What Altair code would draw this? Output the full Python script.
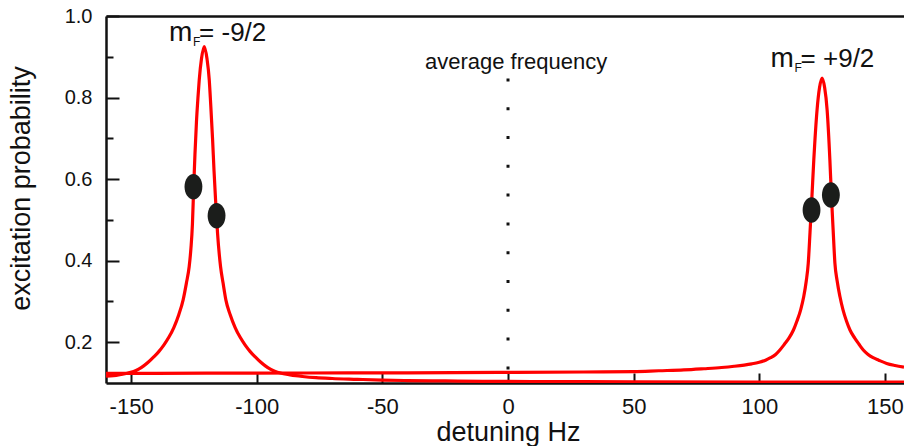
import altair as alt
import pandas as pd

# ---------------- data ----------------
left_x = [-160, -157, -154, -151.5, -149, -147, -145, -143, -141, -139, -137, -135, -133,
          -131, -129.3, -128, -126.9, -126.2, -125.6, -125.1, -124.6, -124.0, -123.4,
          -122.9, -122.0, -120.9, -119.8, -118.9, -118.3, -117.6, -117.0, -116.4, -115.6,
          -114.4, -113.4, -112.3, -110.6, -108.6, -106.6, -104.6, -102.6, -100.6, -98.6,
          -96.6, -94.6, -92.6, -90.2, -87.5, -84.5, -81.8, -76.4, -70, -60, -50, -40,
          -25, -10, 20, 50, 100, 157.6]
left_p = [0.117, 0.118, 0.121, 0.124, 0.128, 0.134, 0.142, 0.152, 0.164, 0.177, 0.193,
          0.212, 0.236, 0.268, 0.304, 0.345, 0.385, 0.430, 0.490, 0.580, 0.660, 0.740,
          0.800, 0.843, 0.895, 0.925, 0.895, 0.843, 0.780, 0.700, 0.620, 0.550, 0.467,
          0.385, 0.345, 0.304, 0.268, 0.236, 0.212, 0.193, 0.177, 0.164, 0.152, 0.142,
          0.134, 0.128, 0.124, 0.121, 0.118, 0.116, 0.113, 0.111, 0.109, 0.107, 0.106,
          0.105, 0.104, 0.1035, 0.103, 0.1025, 0.102]

right_x = [-160, -120, -80, -40, 0, 30, 50, 60, 70, 78, 85, 90, 94, 97, 100, 102.5,
           104.5, 106.5, 108.2, 110, 111.8, 113.6, 115, 116.5, 117.7, 118.7, 119.5,
           120.2, 120.9, 121.7, 123.0, 124.0, 125.0, 126.0, 127.0, 128.1, 128.7, 129.4,
           130.1, 131.0, 132.1, 133.3, 134.7, 136.1, 138.0, 139.7, 141.4, 143.3, 145.3,
           147.5, 150.7, 154.0, 157.6]
right_p = [0.1235, 0.124, 0.1245, 0.125, 0.126, 0.127, 0.128, 0.130, 0.132, 0.135,
           0.138, 0.141, 0.144, 0.147, 0.151, 0.156, 0.162, 0.170, 0.181, 0.195, 0.210,
           0.230, 0.252, 0.280, 0.312, 0.350, 0.394, 0.470, 0.550, 0.647, 0.770, 0.825,
           0.848, 0.825, 0.770, 0.647, 0.561, 0.475, 0.394, 0.350, 0.312, 0.280, 0.252,
           0.230, 0.210, 0.195, 0.181, 0.170, 0.162, 0.156, 0.148, 0.143, 0.139]

dot_x = [-125.2, -116.0, 120.8, 128.5]
dot_p = [0.581, 0.510, 0.524, 0.561]

x_ticks = [-150, -100, -50, 0, 50, 100, 150]
y_major = [0.2, 0.4, 0.6, 0.8, 1.0]
y_minor = [0.3, 0.5, 0.7, 0.9]

avg_freq = [0.0]
avg_line_top = [0.847]
avg_label = ["average frequency"]
avg_label_p = [0.869]

peak_text = ["= -9/2", "= +9/2"]
peak_label_x = [-134.9, 104.5]
peak_label_p = [0.939, 0.876]

# ---------------- tables ----------------
curves = pd.DataFrame({
    "detuning": left_x + right_x,
    "prob": left_p + right_p,
    "series": ["mF=-9/2"] * len(left_x) + ["mF=+9/2"] * len(right_x),
})
dots = pd.DataFrame({"detuning": dot_x, "prob": dot_p})
avg_df = pd.DataFrame({"detuning": avg_freq, "top": avg_line_top, "bottom": [0.1],
                       "label": avg_label, "label_p": avg_label_p})
peaks_df = pd.DataFrame({"detuning": peak_label_x, "prob": peak_label_p, "text": peak_text})

W, H = 798, 367
FONT = "Liberation Sans"
INK = "#111111"

xs = alt.Scale(domain=[-160, 157.6], nice=False, zero=False)
ys = alt.Scale(domain=[0.1, 1.0], nice=False, zero=False)

# label axes
x_label_axis = alt.Axis(orient="bottom", values=x_ticks, ticks=False, domain=True,
                        domainColor=INK, domainWidth=2.5, labelFontSize=22,
                        labelPadding=13, labelFont=FONT, labelColor=INK,
                        labelExpr="'' + datum.value",
                        title="detuning Hz", titleFont=FONT, titleFontSize=27,
                        titleFontWeight="normal", titleColor=INK, titleX=402, titleY=57,
                        titleAlign="center", titleBaseline="alphabetic", grid=False,
                        labelFlush=False, labelOverlap=False)
y_label_axis = alt.Axis(orient="left", values=y_major, ticks=False, domain=True,
                        domainColor=INK, domainWidth=2.5, labelFontSize=20,
                        labelPadding=14, labelFont=FONT, labelColor=INK, format=".1f",
                        title="excitation probability", titleFont=FONT, titleFontSize=27,
                        titleFontWeight="normal", titleColor=INK, titleX=-85, titleY=172,
                        titleAngle=270, titleAlign="center", titleBaseline="middle",
                        grid=False, labelFlush=False, labelOverlap=False)
# inward tick axes
x_tick_axis = alt.Axis(orient="bottom", values=x_ticks, ticks=True, tickSize=10,
                       tickWidth=2, tickColor=INK, offset=-10, labels=False,
                       domain=False, title=None, grid=False)
y_major_axis = alt.Axis(orient="left", values=y_major, ticks=True, tickSize=13,
                        tickWidth=2, tickColor=INK, offset=-13, labels=False,
                        domain=False, title=None, grid=False)
y_minor_axis = alt.Axis(orient="left", values=y_minor, ticks=True, tickSize=7,
                        tickWidth=2, tickColor=INK, offset=-7, labels=False,
                        domain=False, title=None, grid=False)
x_top_axis = alt.Axis(orient="top", ticks=False, labels=False, domain=True,
                      domainColor=INK, domainWidth=2.5, title=None, grid=False)

rule = alt.Chart(avg_df).mark_rule(color=INK, strokeWidth=3, strokeDash=[3, 25.8],
                                   strokeCap="butt").encode(
    x=alt.X("detuning:Q", scale=xs, axis=x_top_axis),
    y=alt.Y("top:Q", scale=ys, axis=y_minor_axis),
    y2="bottom:Q",
)

lines = alt.Chart(curves).mark_line(color="#ff0000", strokeWidth=3.2,
                                    interpolate="monotone", clip=True).encode(
    x=alt.X("detuning:Q", scale=xs, axis=x_label_axis),
    y=alt.Y("prob:Q", scale=ys, axis=y_label_axis),
    detail="series:N",
)

ELLIPSE = "M -0.7 0 A 0.7 1 0 1 1 0.7 0 A 0.7 1 0 1 1 -0.7 0 Z"
points = alt.Chart(dots).mark_point(shape=ELLIPSE, filled=True, size=650,
                                    color="#1b1d1b", opacity=1, strokeWidth=0).encode(
    x=alt.X("detuning:Q", scale=xs, axis=x_tick_axis),
    y=alt.Y("prob:Q", scale=ys, axis=y_major_axis),
)

avg_text = alt.Chart(avg_df).mark_text(font=FONT, fontSize=22, color=INK, align="center",
                                       baseline="alphabetic", dx=8).encode(
    x=alt.X("detuning:Q", scale=xs, axis=None),
    y=alt.Y("label_p:Q", scale=ys, axis=None),
    text="label:N",
)

m_text = alt.Chart(peaks_df).mark_text(text="m", font=FONT, fontSize=28, color=INK,
                                       align="left", baseline="alphabetic").encode(
    x=alt.X("detuning:Q", scale=xs, axis=None),
    y=alt.Y("prob:Q", scale=ys, axis=None),
)
f_text = alt.Chart(peaks_df).mark_text(text="F", font=FONT, fontSize=12, color=INK,
                                       align="left", baseline="alphabetic", dx=24, dy=5).encode(
    x=alt.X("detuning:Q", scale=xs, axis=None),
    y=alt.Y("prob:Q", scale=ys, axis=None),
)
rest_text = alt.Chart(peaks_df).mark_text(font=FONT, fontSize=26, color=INK,
                                          align="left", baseline="alphabetic", dx=30).encode(
    x=alt.X("detuning:Q", scale=xs, axis=None),
    y=alt.Y("prob:Q", scale=ys, axis=None),
    text="text:N",
)

chart = alt.layer(rule, lines, points, avg_text, m_text, f_text, rest_text).resolve_axis(
    x="independent", y="independent"
).properties(
    width=W, height=H,
    autosize=alt.AutoSizeParams(type="none"),
    padding={"left": 106, "top": 16, "right": 0, "bottom": 63},
).configure_view(stroke=None).configure(background="white")

chart.save("out.html", embed_options={"renderer": "svg", "actions": False})
